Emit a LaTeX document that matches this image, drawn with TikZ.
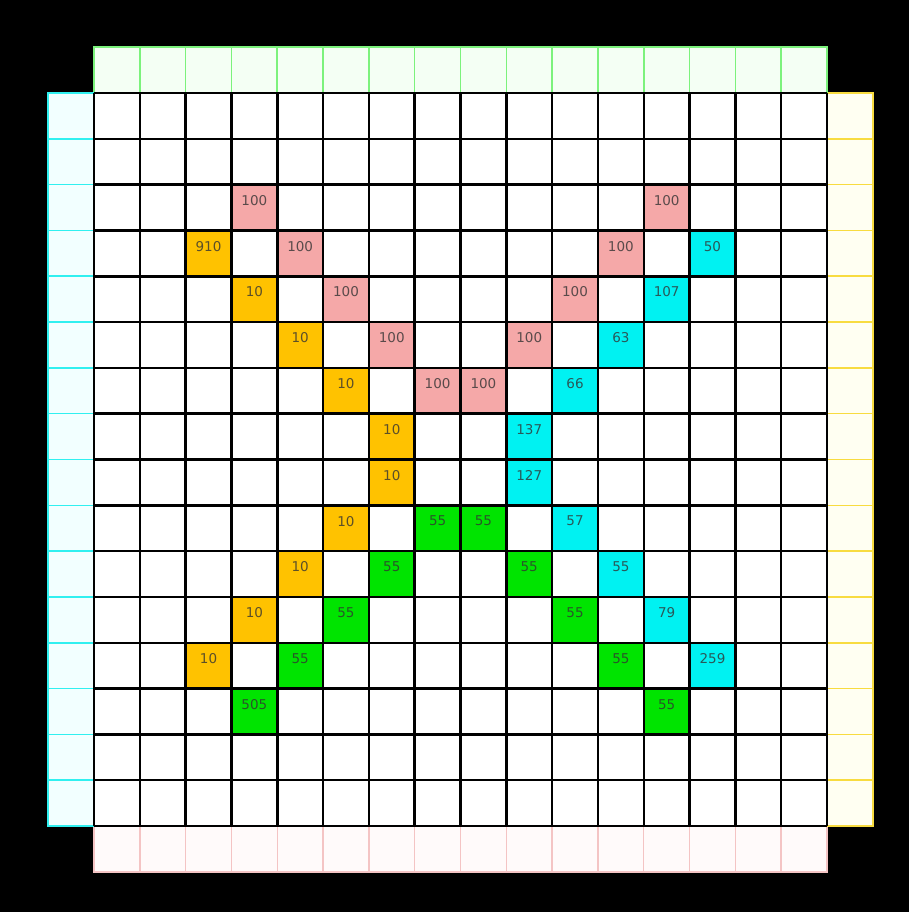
\documentclass[tikz,border=0pt]{standalone}
\usepackage{fontspec}
\setmainfont{DejaVu Sans}
\definecolor{pinkc}{HTML}{F5A8A8}
\definecolor{orangec}{HTML}{FFC200}
\definecolor{cyanc}{HTML}{00F2F2}
\definecolor{greenc}{HTML}{00E400}
\definecolor{numc}{HTML}{333333}
\definecolor{topline}{HTML}{7CF27C}
\definecolor{topfill}{HTML}{F4FFF4}
\definecolor{leftline}{HTML}{30F0F0}
\definecolor{leftfill}{HTML}{F2FFFF}
\definecolor{rightline}{HTML}{F8DC40}
\definecolor{rightfill}{HTML}{FFFFF2}
\definecolor{botline}{HTML}{F4C4C4}
\definecolor{botfill}{HTML}{FFFAFA}
\begin{document}
\begin{tikzpicture}[x=1pt,y=-1pt,
  cellbox/.style={rectangle,minimum size=45.8pt,inner sep=0pt,draw=none},
  num/.style={font=\fontsize{13.5}{15}\selectfont,text=numc,text opacity=0.8,inner sep=0pt},
  gridline/.style={black,line width=2.5pt},
  topcell/.style={fill=topfill,draw=topline,line width=1.6pt},
  leftcell/.style={fill=leftfill,draw=leftline,line width=1.6pt},
  rightcell/.style={fill=rightfill,draw=rightline,line width=1.6pt},
  botcell/.style={fill=botfill,draw=botline,line width=1.4pt}]
\def\S{45.8125}
\def\XO{94}
\def\YO{93}
% background
\fill[black] (0,0) rectangle (909,912);
% border rows
\foreach \i in {0,...,15}{
  \draw[topcell] ({\XO+\i*\S},47) rectangle ({\XO+(\i+1)*\S},\YO);
  \draw[botcell] ({\XO+\i*\S},826) rectangle ({\XO+(\i+1)*\S},872);
  \draw[leftcell] (48,{\YO+\i*\S}) rectangle (\XO,{\YO+(\i+1)*\S});
  \draw[rightcell] (827,{\YO+\i*\S}) rectangle (873,{\YO+(\i+1)*\S});
}
% main grid background
\fill[white] (\XO,\YO) rectangle (827,826);
% coloured cells
\foreach \c/\r/\col/\t in {
  3/2/pinkc/100, 12/2/pinkc/100, 4/3/pinkc/100, 11/3/pinkc/100,
  5/4/pinkc/100, 10/4/pinkc/100, 6/5/pinkc/100, 9/5/pinkc/100,
  7/6/pinkc/100, 8/6/pinkc/100,
  2/3/orangec/910, 3/4/orangec/10, 4/5/orangec/10, 5/6/orangec/10,
  6/7/orangec/10, 6/8/orangec/10, 5/9/orangec/10, 4/10/orangec/10,
  3/11/orangec/10, 2/12/orangec/10,
  13/3/cyanc/50, 12/4/cyanc/107, 11/5/cyanc/63, 10/6/cyanc/66,
  9/7/cyanc/137, 9/8/cyanc/127, 10/9/cyanc/57, 11/10/cyanc/55,
  12/11/cyanc/79, 13/12/cyanc/259,
  7/9/greenc/55, 8/9/greenc/55, 6/10/greenc/55, 9/10/greenc/55,
  5/11/greenc/55, 10/11/greenc/55, 4/12/greenc/55, 11/12/greenc/55,
  3/13/greenc/505, 12/13/greenc/55}{
  \node[cellbox,fill=\col] (cell-\c-\r) at ({\XO+(\c+0.5)*\S},{\YO+(\r+0.5)*\S}) {};
  \node[num] (num-\c-\r) at ([yshift=-16pt]cell-\c-\r.north) {\t};
}
% black grid lines
\foreach \i in {0,...,16}{
  \draw[gridline] ({\XO+\i*\S},\YO) -- ({\XO+\i*\S},826);
  \draw[gridline] (\XO,{\YO+\i*\S}) -- (827,{\YO+\i*\S});
}
\end{tikzpicture}
\end{document}
